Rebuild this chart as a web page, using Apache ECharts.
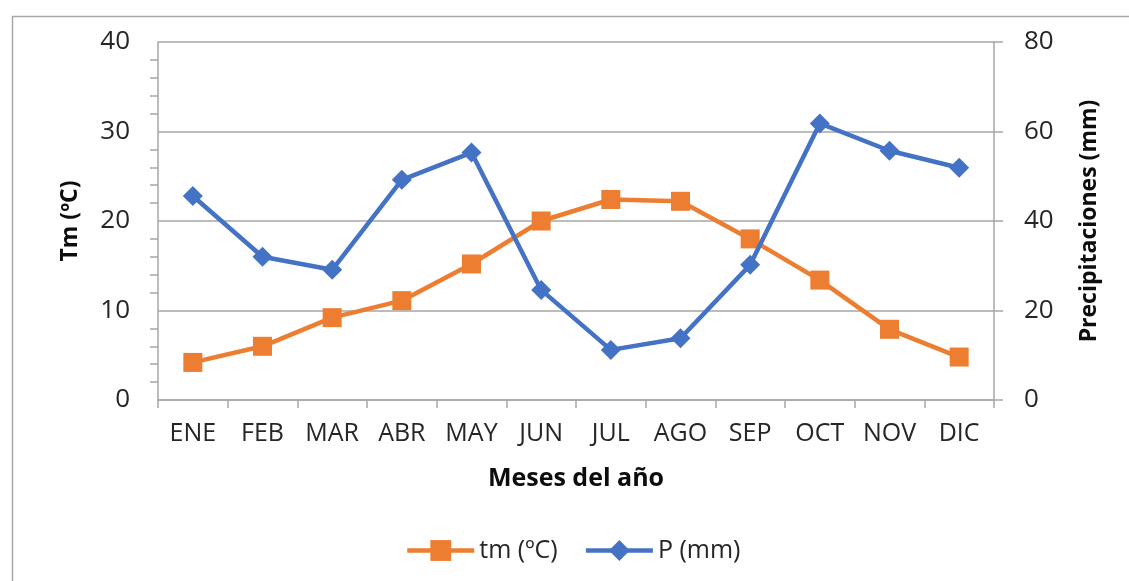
<!DOCTYPE html>
<html>
<head>
<meta charset="utf-8">
<script src="https://cdn.jsdelivr.net/npm/echarts@6/dist/echarts.min.js"></script>
<style>
  html, body { margin: 0; padding: 0; background: #fff; }
  #chart { width: 1129px; height: 581px; }
</style>
</head>
<body>
<div id="chart"></div>
<script>
// Monthly climate values
const months = ['ENE', 'FEB', 'MAR', 'ABR', 'MAY', 'JUN', 'JUL', 'AGO', 'SEP', 'OCT', 'NOV', 'DIC'];
const tempMean = [4.2, 6.0, 9.2, 11.1, 15.2, 20.0, 22.4, 22.2, 18.0, 13.4, 7.9, 4.8];
const precip = [45.6, 32.0, 29.1, 49.2, 55.3, 24.6, 11.2, 13.8, 30.2, 61.8, 55.7, 51.9];
const tempTicks = { min: 0, max: 40, interval: 10 };
const precipTicks = { min: 0, max: 80, interval: 20 };

const FONT = '"Open Sans", "Noto Sans", sans-serif';
const GRAY = '#A6A6A6';
const TEXT = '#262626';

const chart = echarts.init(document.getElementById('chart'));
chart.setOption({
  animation: false,
  textStyle: { fontFamily: FONT },
  graphic: [{
    type: 'rect',
    left: 10, top: 14,
    shape: { width: 1140, height: 600 },
    style: { fill: 'none', stroke: GRAY, lineWidth: 1.5 },
    silent: true
  }],
  grid: { left: 158, right: 135, top: 42, bottom: 181 },
  legend: {
    left: 400, top: 533,
    itemWidth: 67, itemHeight: 26, itemGap: 26,
    lineStyle: { width: 4.5 },
    textStyle: { fontFamily: FONT, fontSize: 25, color: TEXT },
    data: ['tm (ºC)', 'P (mm)']
  },
  xAxis: {
    type: 'category',
    data: months,
    boundaryGap: true,
    axisLine: { lineStyle: { color: GRAY, width: 1.5 } },
    axisTick: { show: true, interval: 0, length: 8, lineStyle: { color: GRAY, width: 1.5 } },
    axisLabel: { interval: 0, fontSize: 25, color: TEXT, margin: 21, fontFamily: FONT },
    name: 'Meses del año',
    nameLocation: 'middle',
    nameGap: 66,
    nameTextStyle: { fontSize: 25, fontWeight: 'bold', color: '#0d0d0d', fontFamily: FONT }
  },
  yAxis: [{
    type: 'value',
    min: tempTicks.min, max: tempTicks.max, interval: tempTicks.interval,
    axisLine: { show: true, lineStyle: { color: GRAY, width: 1.5 } },
    axisTick: { show: false },
    minorTick: { show: true, splitNumber: 5, length: 8, lineStyle: { color: GRAY, width: 1.5 } },
    splitLine: { show: true, lineStyle: { color: GRAY, width: 1.5 } },
    axisLabel: { fontSize: 26, color: TEXT, margin: 28, fontFamily: FONT },
    name: 'Tm (ºC)',
    nameLocation: 'middle',
    nameGap: 76,
    nameRotate: 90,
    nameTextStyle: { fontSize: 23, fontWeight: 'bold', color: '#0d0d0d', fontFamily: FONT }
  }, {
    type: 'value',
    position: 'right',
    min: precipTicks.min, max: precipTicks.max, interval: precipTicks.interval,
    axisLine: { show: true, lineStyle: { color: GRAY, width: 1.5 } },
    axisTick: { show: true, inside: false, length: 9, lineStyle: { color: GRAY, width: 1.5 } },
    splitLine: { show: false },
    axisLabel: { fontSize: 26, color: TEXT, margin: 30, fontFamily: FONT },
    name: 'Precipitaciones (mm)',
    nameLocation: 'middle',
    nameGap: 84,
    nameRotate: 90,
    nameTextStyle: { fontSize: 23, fontWeight: 'bold', color: '#0d0d0d', fontFamily: FONT }
  }],
  series: [{
    name: 'tm (ºC)',
    type: 'line',
    yAxisIndex: 0,
    data: tempMean,
    symbol: 'rect',
    symbolSize: 19,
    lineStyle: { color: '#ED7D31', width: 4.5 },
    itemStyle: { color: '#ED7D31' },
    z: 2
  }, {
    name: 'P (mm)',
    type: 'line',
    yAxisIndex: 1,
    data: precip,
    symbol: 'diamond',
    symbolSize: 20,
    lineStyle: { color: '#4472C4', width: 4.5 },
    itemStyle: { color: '#4472C4' },
    z: 3
  }]
});
</script>
</body>
</html>
